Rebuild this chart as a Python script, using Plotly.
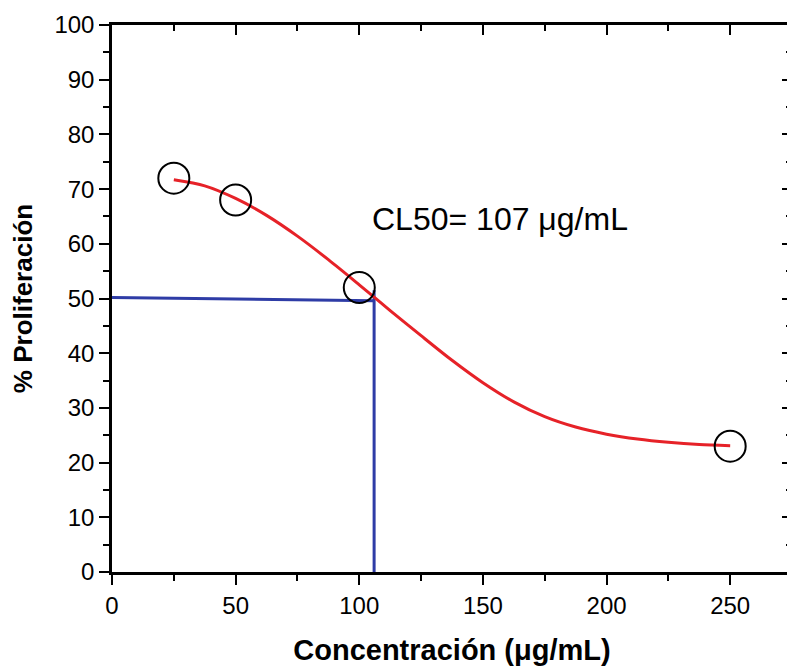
import plotly.graph_objects as go

# Measured data points
conc = [25, 50, 100, 250]
prolif = [72, 68, 52, 23]

# Fitted curve
curve_x = [25, 37.5, 50, 62.5, 75, 87.5, 100, 112.5, 125, 137.5, 150, 162.5, 175, 187.5, 200, 212.5, 225, 237.5, 250]
curve_y = [71.7, 70.6, 68.3, 65.2, 61.4, 57.1, 52.5, 47.8, 43.2, 38.7, 34.6, 31.1, 28.4, 26.5, 25.2, 24.3, 23.7, 23.3, 23.1]

# CL50 guide lines
guide_h_x = [0, 106]
guide_h_y = [50.2, 49.6]
guide_v_x = [106, 106]
guide_v_y = [0, 51.5]

annotation_text = "CL50= 107 \u03bcg/mL"
x_title = "Concentraci\u00f3n (\u03bcg/mL)"
y_title = "% Proliferaci\u00f3n"

x_ticks = [0, 50, 100, 150, 200, 250]
x_minor = [25, 75, 125, 175, 225]
y_ticks = list(range(0, 101, 10))
y_minor = list(range(5, 100, 10))

FONT = "Liberation Sans, Arial, sans-serif"
BLUE = "#2E3CA6"
RED = "#E62228"

fig = go.Figure()
fig.add_trace(go.Scatter(x=guide_h_x, y=guide_h_y, mode="lines",
                         line=dict(color=BLUE, width=3), showlegend=False))
fig.add_trace(go.Scatter(x=guide_v_x, y=guide_v_y, mode="lines",
                         line=dict(color=BLUE, width=3), showlegend=False))
fig.add_trace(go.Scatter(x=curve_x, y=curve_y, mode="lines",
                         line=dict(color=RED, width=3, shape="spline", smoothing=0.8),
                         showlegend=False))
fig.add_trace(go.Scatter(x=conc, y=prolif, mode="markers",
                         marker=dict(symbol="circle-open", size=31, color="black",
                                     line=dict(color="black", width=2)),
                         showlegend=False, cliponaxis=False))

# invisible trace to activate mirror axes
fig.add_trace(go.Scatter(x=[0], y=[0], xaxis="x2", yaxis="y2", mode="markers",
                         marker=dict(opacity=0), showlegend=False, hoverinfo="skip"))

fig.add_annotation(x=157, y=64.6, text=annotation_text, showarrow=False,
                   font=dict(family=FONT, size=32, color="black"),
                   xanchor="center", yanchor="middle")

common = dict(showline=True, linecolor="black", linewidth=2.5, showgrid=False, zeroline=False,
              tickwidth=2, tickcolor="black")

fig.update_layout(
    width=787, height=658,
    margin=dict(l=103, r=3, t=14, b=93),
    paper_bgcolor="white", plot_bgcolor="white",
    font=dict(family=FONT, color="black"),
    xaxis=dict(range=[0, 275], tickvals=x_ticks, ticks="outside", ticklen=10,
               minor=dict(tickvals=x_minor, ticks="outside", ticklen=6, tickwidth=2, tickcolor="black"),
               tickfont=dict(size=24, family=FONT, color="black"),
               title=dict(text=x_title, font=dict(size=29, family=FONT, color="black", weight="bold"),
                          standoff=24),
               **common),
    yaxis=dict(range=[0, 100], tickvals=y_ticks, ticks="outside", ticklen=10,
               minor=dict(tickvals=y_minor, ticks="outside", ticklen=6, tickwidth=2, tickcolor="black"),
               tickfont=dict(size=24, family=FONT, color="black"),
               title=dict(text=y_title, font=dict(size=26, family=FONT, color="black", weight="bold"),
                          standoff=25),
               **common),
    xaxis2=dict(range=[0, 275], overlaying="x", side="top", anchor="y2",
                tickvals=x_ticks, ticks="inside", ticklen=10, showticklabels=False,
                minor=dict(tickvals=x_minor, ticks="inside", ticklen=6, tickwidth=2, tickcolor="black"),
                **common),
    yaxis2=dict(range=[0, 100], overlaying="y", side="right", anchor="x2",
                tickvals=y_ticks, ticks="inside", ticklen=10, showticklabels=False,
                minor=dict(tickvals=y_minor, ticks="inside", ticklen=6, tickwidth=2, tickcolor="black"),
                **common),
)

fig.write_html("out.html")
